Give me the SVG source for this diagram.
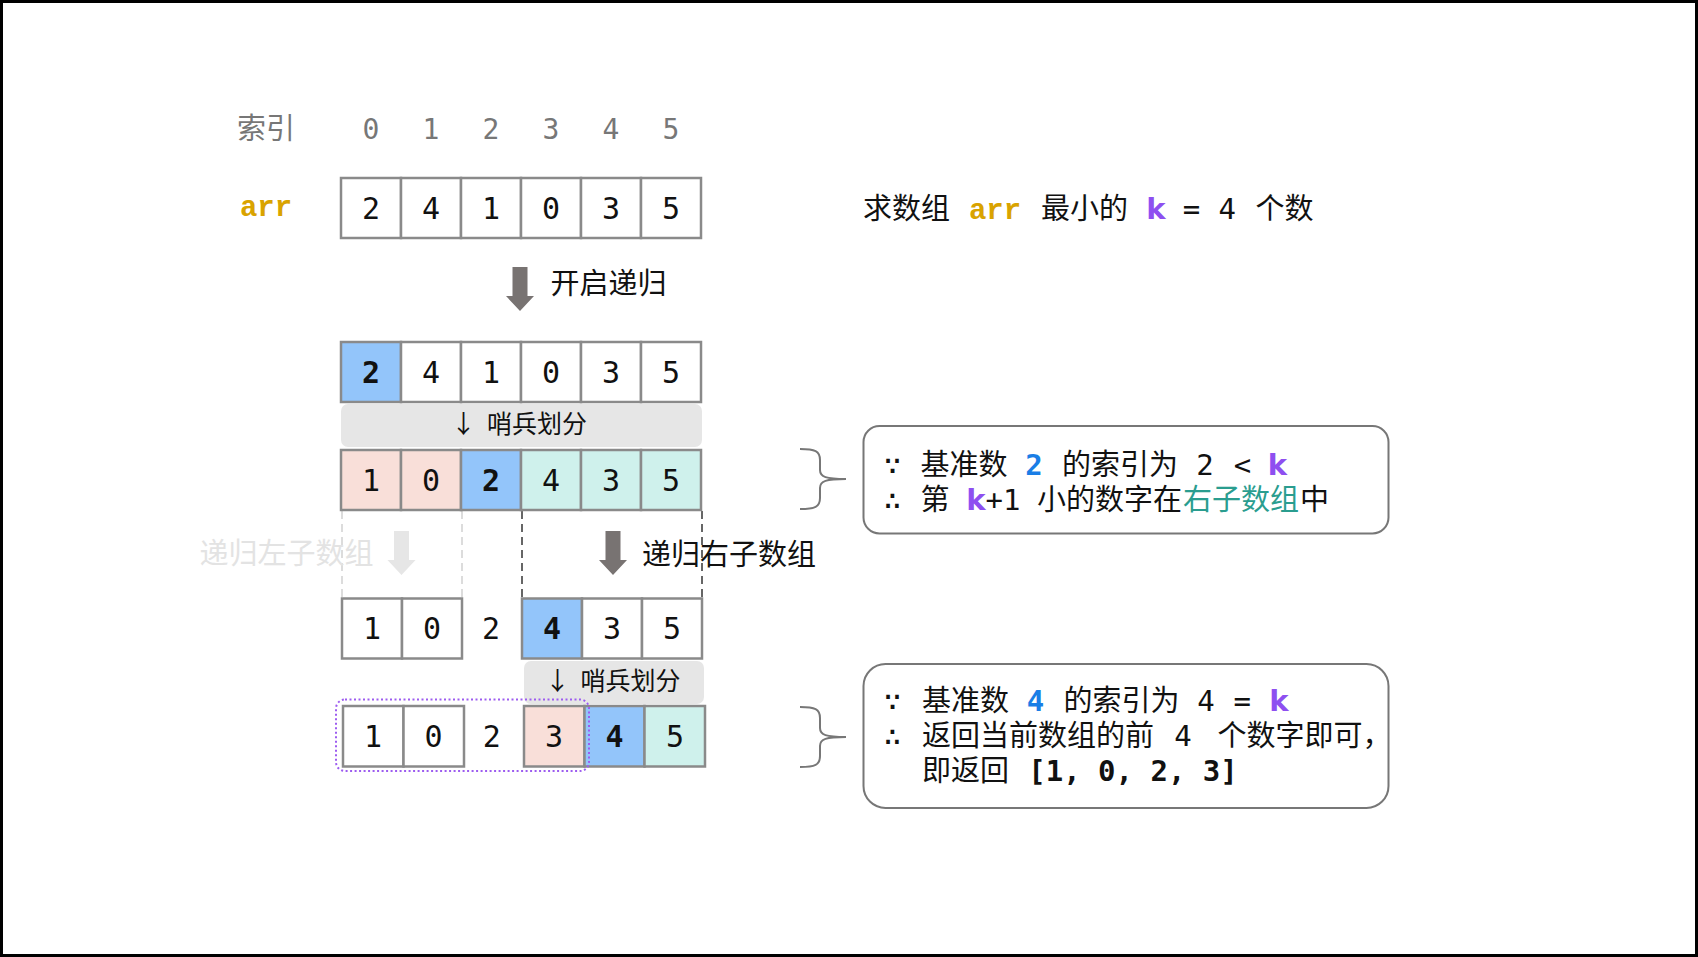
<svg xmlns="http://www.w3.org/2000/svg" width="1698" height="957" viewBox="0 0 1698 957">
<style>
.cell{stroke:#8a8a8a;stroke-width:2.5;fill:#fff}
.b{fill:#93c5fa}.p{fill:#f9dfd9}.c{fill:#cff1ec}
.num{font-family:"DejaVu Sans Mono","Liberation Mono",monospace;font-size:30px;fill:#111;text-anchor:middle}
.bd{font-weight:bold}
.t{font-family:"DejaVu Sans Mono","Noto Sans CJK SC",sans-serif;font-size:29px;fill:#111}
.mid{text-anchor:middle}
.idx{font-family:"DejaVu Sans Mono","Noto Sans CJK SC",monospace;font-size:28px;fill:#777;text-anchor:middle}
.bar{fill:#e6e6e6}
.bart{font-family:"DejaVu Sans Mono","Noto Sans CJK SC",sans-serif;font-size:25px;fill:#111}
.arr{font-family:"Noto Sans CJK SC",sans-serif}
.gold{font-family:"Liberation Mono",monospace;font-weight:bold;fill:#d9a300}
.k{font-family:"DejaVu Sans",sans-serif;font-weight:bold;fill:#8e4ff0}
.blue{font-family:"DejaVu Sans Mono",monospace;font-weight:bold;fill:#1a7ee6}
.teal{fill:#2a9d8f}
.box{fill:#fff;stroke:#777;stroke-width:2}
.brace{fill:none;stroke:#777;stroke-width:2}
.dl{stroke:#dcdcdc;stroke-width:2;stroke-dasharray:8 5}
.dd{stroke:#666;stroke-width:2;stroke-dasharray:8 5}
</style>
<defs>
<path id="arw" d="M-7.5,0 H7.5 V29 H14 L0,44 L-14,29 H-7.5 Z"/>
</defs>
<rect x="1.5" y="1.5" width="1695" height="954" fill="#fff" stroke="#000" stroke-width="3"/>

<g id="index-row">
<text class="t mid" x="266" y="139" style="fill:#777">索引</text>
<text class="idx" x="371" y="139">0</text>
<text class="idx" x="431" y="139">1</text>
<text class="idx" x="491" y="139">2</text>
<text class="idx" x="551" y="139">3</text>
<text class="idx" x="611" y="139">4</text>
<text class="idx" x="671" y="139">5</text>
</g>

<g id="arr-label">
<text class="gold" x="266" y="216" font-size="29" text-anchor="middle">arr</text>
</g>

<g id="array-1">
<rect class="cell" x="341" y="178" width="60" height="60"/>
<rect class="cell" x="401" y="178" width="60" height="60"/>
<rect class="cell" x="461" y="178" width="60" height="60"/>
<rect class="cell" x="521" y="178" width="60" height="60"/>
<rect class="cell" x="581" y="178" width="60" height="60"/>
<rect class="cell" x="641" y="178" width="60" height="60"/>
<text class="num" x="371" y="218.5">2</text>
<text class="num" x="431" y="218.5">4</text>
<text class="num" x="491" y="218.5">1</text>
<text class="num" x="551" y="218.5">0</text>
<text class="num" x="611" y="218.5">3</text>
<text class="num" x="671" y="218.5">5</text>
</g>

<g id="goal-text">
<text class="t" y="219"><tspan x="863">求数组</tspan><tspan class="gold" x="995" text-anchor="middle">arr</tspan><tspan x="1041">最小的</tspan><tspan class="k" x="1156" text-anchor="middle">k</tspan><tspan x="1191.5" text-anchor="middle">=</tspan><tspan x="1227.3" text-anchor="middle">4</tspan><tspan x="1255.5">个数</tspan></text>
</g>

<g id="connectors">
<use href="#arw" transform="translate(520,267)" fill="#787372"/>
<use href="#arw" transform="translate(613,531)" fill="#787372"/>
<use href="#arw" transform="translate(401.5,531)" fill="#e6e6e6"/>
<line class="dl" x1="342" y1="511" x2="342" y2="598"/>
<line class="dl" x1="462" y1="511" x2="462" y2="598"/>
<line class="dd" x1="522" y1="511" x2="522" y2="598"/>
<line class="dd" x1="702" y1="511" x2="702" y2="598"/>
</g>

<g id="label-start">
<text class="t" x="550.5" y="294">开启递归</text>
</g>
<g id="label-right">
<text class="t" x="642" y="565">递归右子数组</text>
</g>
<g id="label-left">
<text class="t" x="199.5" y="564" style="fill:#e3e3e3">递归左子数组</text>
</g>

<g id="array-2">
<rect class="cell b" x="341" y="342" width="60" height="60"/>
<rect class="cell" x="401" y="342" width="60" height="60"/>
<rect class="cell" x="461" y="342" width="60" height="60"/>
<rect class="cell" x="521" y="342" width="60" height="60"/>
<rect class="cell" x="581" y="342" width="60" height="60"/>
<rect class="cell" x="641" y="342" width="60" height="60"/>
<text class="num bd" x="371" y="382.5">2</text>
<text class="num" x="431" y="382.5">4</text>
<text class="num" x="491" y="382.5">1</text>
<text class="num" x="551" y="382.5">0</text>
<text class="num" x="611" y="382.5">3</text>
<text class="num" x="671" y="382.5">5</text>
</g>

<g id="partition-1">
<rect class="bar" x="341" y="404" width="361" height="43" rx="7"/>
<text class="bart" y="433"><tspan class="arr" x="463.5" text-anchor="middle">↓</tspan><tspan x="487">哨兵划分</tspan></text>
</g>

<g id="array-3">
<rect class="cell p" x="341" y="450" width="60" height="60"/>
<rect class="cell p" x="401" y="450" width="60" height="60"/>
<rect class="cell b" x="461" y="450" width="60" height="60"/>
<rect class="cell c" x="521" y="450" width="60" height="60"/>
<rect class="cell c" x="581" y="450" width="60" height="60"/>
<rect class="cell c" x="641" y="450" width="60" height="60"/>
<text class="num" x="371" y="490.5">1</text>
<text class="num" x="431" y="490.5">0</text>
<text class="num bd" x="491" y="490.5">2</text>
<text class="num" x="551" y="490.5">4</text>
<text class="num" x="611" y="490.5">3</text>
<text class="num" x="671" y="490.5">5</text>
</g>

<g id="array-4">
<rect class="cell" x="342" y="598.5" width="60" height="60"/>
<rect class="cell" x="402" y="598.5" width="60" height="60"/>
<rect class="cell b" x="522" y="598.5" width="60" height="60"/>
<rect class="cell" x="582" y="598.5" width="60" height="60"/>
<rect class="cell" x="642" y="598.5" width="60" height="60"/>
<text class="num" x="372" y="639">1</text>
<text class="num" x="432" y="639">0</text>
<text class="num" x="491" y="639">2</text>
<text class="num bd" x="552" y="639">4</text>
<text class="num" x="612" y="639">3</text>
<text class="num" x="672" y="639">5</text>
</g>

<g id="partition-2">
<rect class="bar" x="524" y="661" width="180" height="43" rx="7"/>
<text class="bart" y="690"><tspan class="arr" x="557.5" text-anchor="middle">↓</tspan><tspan x="580.5">哨兵划分</tspan></text>
</g>

<g id="array-5">
<rect class="cell" x="343" y="706" width="60.5" height="60.5"/>
<rect class="cell" x="403.5" y="706" width="60.5" height="60.5"/>
<rect class="cell p" x="524" y="706" width="60.5" height="60.5"/>
<rect class="cell b" x="584.5" y="706" width="60" height="60.5"/>
<rect class="cell c" x="644.5" y="706" width="60.5" height="60.5"/>
<text class="num" x="373" y="747">1</text>
<text class="num" x="433.5" y="747">0</text>
<text class="num" x="491.7" y="747">2</text>
<text class="num" x="554" y="747">3</text>
<text class="num bd" x="614.5" y="747">4</text>
<text class="num" x="675" y="747">5</text>
<rect x="336" y="699.5" width="253" height="71.5" rx="9" fill="none" stroke="#9d5cf0" stroke-width="2" stroke-dasharray="2 2.5"/>
</g>

<g id="brace-1">
<path class="brace" d="M800,449 C815,449 820,451 820,460 L820,470 C820,477 826,479 846,479 M800,509 C815,509 820,507 820,498 L820,488 C820,481 826,479 846,479"/>
</g>
<g id="note-1">
<rect class="box" x="863.5" y="426" width="525" height="107.5" rx="16"/>
<text class="t" y="475"><tspan x="892.5" text-anchor="middle">∵</tspan><tspan x="920.5">基准数</tspan><tspan class="blue" x="1034" text-anchor="middle">2</tspan><tspan x="1062">的索引为</tspan><tspan x="1205" text-anchor="middle">2</tspan><tspan x="1242.5" text-anchor="middle">&lt;</tspan><tspan class="k" x="1277.5" text-anchor="middle">k</tspan></text>
<text class="t" y="510"><tspan x="892.5" text-anchor="middle">∴</tspan><tspan x="920.5">第</tspan><tspan class="k" x="975.8" text-anchor="middle">k</tspan><tspan x="1003" text-anchor="middle">+1</tspan><tspan x="1037">小的数字在</tspan><tspan class="teal" x="1183">右子数组</tspan><tspan x="1300">中</tspan></text>
</g>

<g id="brace-2">
<path class="brace" d="M800,707 C815,707 820,709 820,718 L820,728 C820,735 826,737 846,737 M800,767 C815,767 820,765 820,756 L820,746 C820,739 826,737 846,737"/>
</g>
<g id="note-2">
<rect class="box" x="863.5" y="664" width="525" height="144" rx="22"/>
<text class="t" y="711"><tspan x="892.5" text-anchor="middle">∵</tspan><tspan x="922">基准数</tspan><tspan class="blue" x="1035.5" text-anchor="middle">4</tspan><tspan x="1063.5">的索引为</tspan><tspan x="1206" text-anchor="middle">4</tspan><tspan x="1242.3" text-anchor="middle">=</tspan><tspan class="k" x="1279" text-anchor="middle">k</tspan></text>
<text class="t" y="746"><tspan x="892.5" text-anchor="middle">∴</tspan><tspan x="922">返回当前数组的前</tspan><tspan x="1183" text-anchor="middle">4</tspan><tspan x="1217.5">个数字即可，</tspan></text>
<text class="t" y="781"><tspan x="922">即返回</tspan><tspan x="1133" text-anchor="middle" font-weight="bold">[1, 0, 2, 3]</tspan></text>
</g>
</svg>
